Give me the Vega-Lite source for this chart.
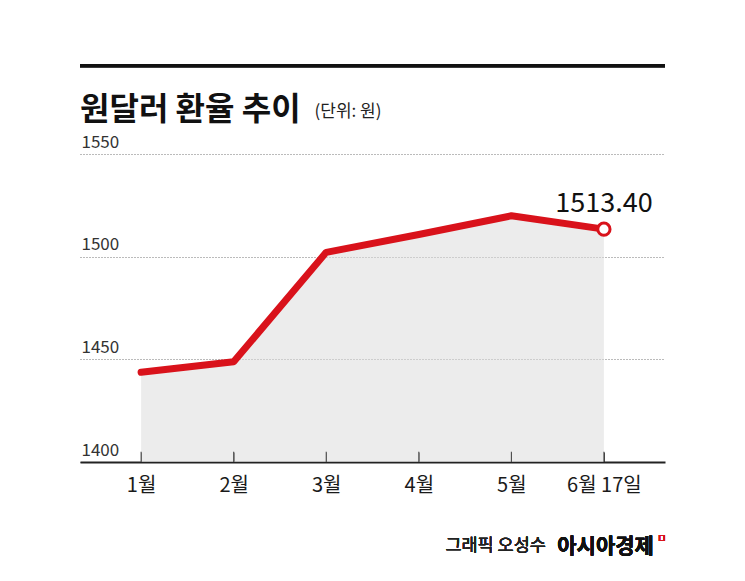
{
  "$schema": "https://vega.github.io/schema/vega-lite/v6.json",
  "width": 585,
  "height": 308,
  "autosize": {"type": "none"},
  "padding": {"left": 80, "top": 154, "right": 80, "bottom": 119},
  "background": "white",
  "config": {"font": "Noto Sans CJK KR", "view": {"stroke": null}},
  "title": {
    "text": "원달러 환율 추이",
    "anchor": "start",
    "frame": "group",
    "fontSize": 32,
    "fontWeight": "bold",
    "color": "#111111",
    "baseline": "alphabetic",
    "offset": -17,
    "dy": 71
  },
  "data": {
    "values": [
      {"m": "1월", "v": 1443.7},
      {"m": "2월", "v": 1448.8},
      {"m": "3월", "v": 1502.1},
      {"m": "4월", "v": 1510.8},
      {"m": "5월", "v": 1519.9},
      {"m": "6월 17일", "v": 1513.4}
    ]
  },
  "layer": [
    {
      "mark": {"type": "area", "color": "#dcdcdc", "fillOpacity": 0.55},
      "encoding": {
        "x": {
          "field": "m",
          "type": "ordinal",
          "sort": null,
          "scale": {"type": "point", "padding": 0.66},
          "axis": {
            "title": null,
            "labelAngle": 0,
            "labelFontSize": 20,
            "labelColor": "#1a1a1a",
            "labelBaseline": "alphabetic",
            "labelPadding": 39,
            "tickSize": -10,
            "tickColor": "#444444",
            "tickWidth": 1,
            "domainColor": "#222222",
            "domainWidth": 2
          }
        },
        "y": {
          "field": "v",
          "type": "quantitative",
          "scale": {"domain": [1400, 1550], "nice": false, "zero": false},
          "axis": {
            "title": "(단위: 원)",
            "titleAngle": 0,
            "titleAlign": "left",
            "titleBaseline": "alphabetic",
            "titleX": 234,
            "titleY": -38,
            "titleFontSize": 17,
            "titleFontWeight": "normal",
            "titleColor": "#222222",
            "values": [1400, 1450, 1500, 1550],
            "format": "d",
            "grid": true,
            "gridDash": [1, 2],
            "gridColor": "#777777",
            "domain": false,
            "ticks": false,
            "tickSize": 0,
            "labelAlign": "left",
            "labelPadding": -1,
            "labelBaseline": "alphabetic",
            "labelOffset": -7,
            "labelFontSize": 17,
            "labelColor": "#333333"
          }
        },
        "y2": {"datum": 1400}
      }
    },
    {
      "mark": {"type": "rule", "color": "#444444", "strokeWidth": 1},
      "encoding": {
        "x": {"field": "m", "type": "ordinal", "sort": null},
        "y": {"datum": 1400, "type": "quantitative"},
        "y2": {"datum": 1405}
      }
    },
    {
      "mark": {"type": "line", "color": "#d9121b", "strokeWidth": 7, "strokeCap": "round", "strokeJoin": "round"},
      "encoding": {
        "x": {"field": "m", "type": "ordinal", "sort": null},
        "y": {"field": "v", "type": "quantitative"}
      }
    },
    {
      "transform": [{"filter": "datum.m == '6월 17일'"}],
      "mark": {"type": "point", "shape": "circle", "filled": true, "fill": "white", "stroke": "#d9121b", "strokeWidth": 3, "size": 150, "opacity": 1},
      "encoding": {
        "x": {"field": "m", "type": "ordinal", "sort": null},
        "y": {"field": "v", "type": "quantitative"}
      }
    },
    {
      "transform": [{"filter": "datum.m == '6월 17일'"}],
      "mark": {"type": "text", "fontSize": 27, "dy": -17, "baseline": "alphabetic", "align": "center", "color": "#111111"},
      "encoding": {
        "x": {"field": "m", "type": "ordinal", "sort": null},
        "y": {"field": "v", "type": "quantitative"},
        "text": {"field": "v", "type": "quantitative", "format": ".2f"}
      }
    },
    {
      "mark": {"type": "rule", "color": "#111111", "strokeWidth": 3},
      "encoding": {"y": {"datum": 1593, "type": "quantitative"}}
    },
    {
      "mark": {"type": "text", "fontSize": 17.5, "align": "right", "baseline": "alphabetic", "dx": -58, "color": "#222222"},
      "encoding": {
        "x": {"datum": "6월 17일", "type": "ordinal"},
        "y": {"datum": 1356.6, "type": "quantitative"},
        "text": {"value": "그래픽 오성수"}
      }
    },
    {
      "mark": {"type": "text", "fontSize": 21, "fontWeight": "bold", "align": "right", "baseline": "alphabetic", "dx": 50, "dy": 2, "color": "#111111"},
      "encoding": {
        "x": {"datum": "6월 17일", "type": "ordinal"},
        "y": {"datum": 1356.6, "type": "quantitative"},
        "text": {"value": "아시아경제"}
      }
    },
    {
      "mark": {"type": "text", "fontSize": 10, "fontWeight": "bold", "align": "center", "baseline": "middle", "dx": 58, "dy": -12, "color": "#d9121b"},
      "encoding": {
        "x": {"datum": "6월 17일", "type": "ordinal"},
        "y": {"datum": 1356.6, "type": "quantitative"},
        "text": {"value": "ㅁ"}
      }
    }
  ]
}
